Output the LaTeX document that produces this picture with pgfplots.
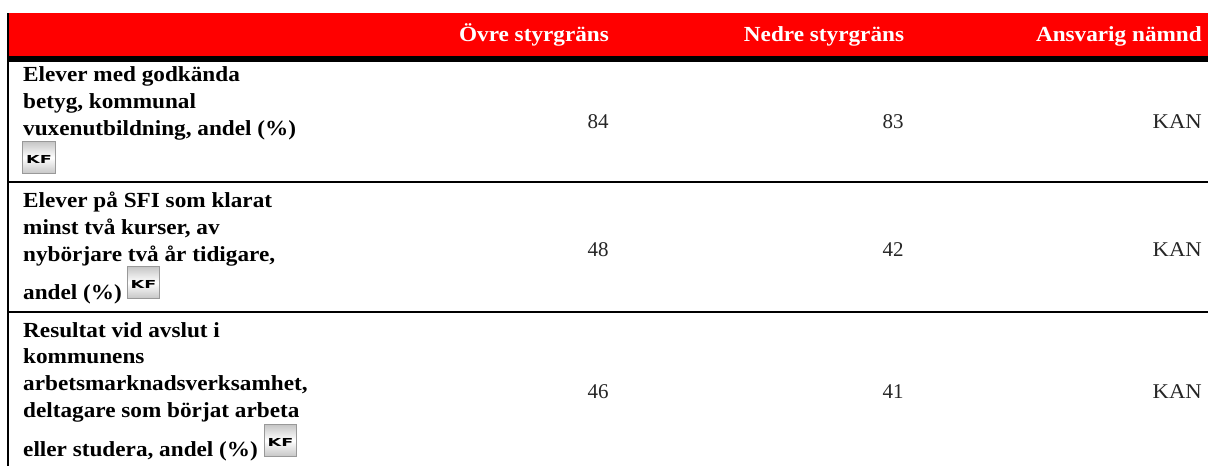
\documentclass[border=0pt]{standalone}
\usepackage{fontspec}
\setmainfont{Liberation Serif}[FakeStretch=1.08]
\newfontfamily\numfont{Liberation Serif}
\newfontfamily\kffont{DejaVu Sans}[FakeStretch=1.6]
\usepackage{pgfplots}
\pgfplotsset{compat=1.18}
\definecolor{hdr}{HTML}{FF0000}
\newcommand\pct{\%}
% pixel grid of the reference: x 0-1208, y 0-466 downwards
\newcommand\kficon[4]{%
 \addplot[draw=gray!80,line width=.7pt,top color=gray!45,bottom color=gray!45,middle color=white] coordinates {(#1,#2) (#3,#2) (#3,#4) (#1,#4)} -- cycle;
 \addplot[only marks,mark=none,point meta=explicit symbolic,nodes near coords,
  nodes near coords style={anchor=center,inner sep=0pt,font=\kffont\bfseries\fontsize{11}{11}\selectfont,text=black}]
  coordinates {({(#1+#3)/2},{(#2+#4)/2+2}) [KF]};
}
\begin{document}
\begin{tikzpicture}
\begin{axis}[scale only axis,width=1208pt,height=466pt,xmin=0,xmax=1208,ymin=0,ymax=466,y dir=reverse,
 hide axis,clip=false,
 nodes near coords={\pgfplotspointmeta},point meta=explicit symbolic]
% header band and rules
\addplot[fill=hdr,draw=none] coordinates {(8,13) (1208,13) (1208,56) (8,56)} -- cycle;
\addplot[black,line width=6pt] coordinates {(7,59) (1208,59)};
\addplot[black,line width=2pt] coordinates {(7,182) (1208,182)};
\addplot[black,line width=2pt] coordinates {(7,312) (1208,312)};
\addplot[black,line width=2pt] coordinates {(8,13) (8,466)};
% header
\addplot[only marks,mark=none,nodes near coords style={anchor=base,inner sep=0pt,text=white,font=\bfseries\fontsize{21.5}{21.5}\selectfont}]
 table[x=x,y=y,meta=t,col sep=comma,row sep=\\] {
 x,y,t\\
 534,41,Övre styrgräns\\
 824,41,Nedre styrgräns\\
 };
\addplot[only marks,mark=none,nodes near coords style={anchor=base east,inner sep=0pt,text=white,font=\bfseries\fontsize{21.5}{21.5}\selectfont}]
 table[x=x,y=y,meta=t,col sep=comma,row sep=\\] {
 x,y,t\\
 1202,41,Ansvarig nämnd\\
 };
% row labels
\addplot[only marks,mark=none,nodes near coords style={anchor=base west,inner sep=0pt,text=black,font=\bfseries\fontsize{21.5}{21.5}\selectfont}]
 table[x=x,y=y,meta=t,col sep=comma,row sep=\\] {
 x,y,t\\
 23,81,Elever med godkända\\
 23,108,{betyg, kommunal}\\
 23,135,{vuxenutbildning, andel (\pct)}\\
 23,207,Elever på SFI som klarat\\
 23,234,{minst två kurser, av}\\
 23,261,{nybörjare två år tidigare,}\\
 23,299,andel (\pct)\\
 23,337,Resultat vid avslut i\\
 23,363,kommunens\\
 23,390,{arbetsmarknadsverksamhet,}\\
 23,417,deltagare som börjat arbeta\\
 23,456,{eller studera, andel (\pct)}\\
 };
% values
\addplot[only marks,mark=none,nodes near coords style={anchor=base,inner sep=0pt,text=black!85,font=\numfont\fontsize{21}{21}\selectfont}]
 table[x=x,y=y,meta=t,col sep=comma,row sep=\\] {
 x,y,t\\
 598,128,84\\
 893,128,83\\
 598,256,48\\
 893,256,42\\
 598,398,46\\
 893,398,41\\
 };
\addplot[only marks,mark=none,nodes near coords style={anchor=base east,inner sep=0pt,text=black!85,font=\fontsize{21}{21}\selectfont}]
 table[x=x,y=y,meta=t,col sep=comma,row sep=\\] {
 x,y,t\\
 1202,128,KAN\\
 1202,256,KAN\\
 1202,398,KAN\\
 };
\kficon{22.5}{141.5}{55.5}{173.5}
\kficon{127.5}{266.5}{159.5}{298.5}
\kficon{264.5}{424.5}{296.5}{456.5}
\end{axis}
\pgfresetboundingbox
\path[use as bounding box] (current axis.south west) rectangle (current axis.north east);
\end{tikzpicture}
\end{document}
